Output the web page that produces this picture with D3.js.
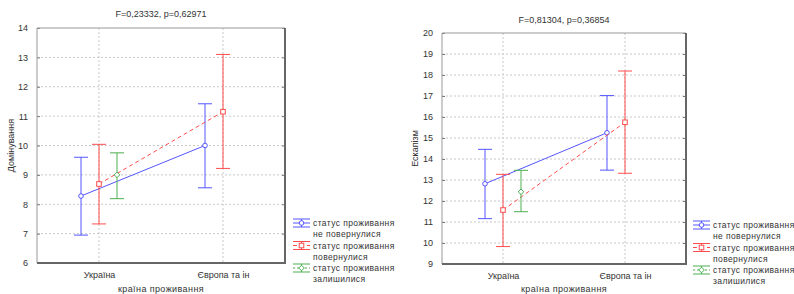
<!DOCTYPE html>
<html><head><meta charset="utf-8">
<script src="https://cdn.jsdelivr.net/npm/d3@7"></script>
<style>body{margin:0;background:#fff}svg{display:block}text{font-family:"Liberation Sans",Arial,sans-serif;fill:#333}</style>
</head><body><svg id="c" width="794" height="294"></svg>
<script>
const categories = ["Україна", "Європа та ін"];
const seriesLabels = [["статус проживання","не повернулися"],["статус проживання","повернулися"],["статус проживання","залишилися"]];
const xTitle = "країна проживання";

// Chart 1: Домінування
const domTitle = "F=0,23332, p=0,62971";
const domYLabel = "Домінування";
const domTicks = [6,7,8,9,10,11,12,13,14];
const domMean = [[8.28, 10.0],[8.69, 11.15],[9.0, null]];
const domLow  = [[6.95, 8.56],[7.33, 9.22],[8.19, null]];
const domHigh = [[9.6, 11.42],[10.04, 13.1],[9.75, null]];

// Chart 2: Ескапізм
const escTitle = "F=0,81304, p=0,36854";
const escYLabel = "Ескапізм";
const escTicks = [9,10,11,12,13,14,15,16,17,18,19,20];
const escMean = [[12.82, 15.25],[11.57, 15.75],[12.44, null]];
const escLow  = [[11.16, 13.47],[9.83, 13.32],[11.49, null]];
const escHigh = [[14.46, 17.02],[13.27, 18.19],[13.46, null]];

const colors = ["#5555ff","#ff4d4d","#4caf50"];
const dashes = [null,"4,3","2,2"];
const offsets = [-18, 0, 18];

const svg = d3.select("#c");

function marker(g, i, x, y, col){
  if(i===0) g.append("circle").attr("cx",x).attr("cy",y).attr("r",2.3).attr("fill","#fff").attr("stroke",col).attr("stroke-width",1);
  else if(i===1) g.append("rect").attr("x",x-2.3).attr("y",y-2.3).attr("width",4.6).attr("height",4.6).attr("fill","#fff").attr("stroke",col).attr("stroke-width",1);
  else g.append("path").attr("d",`M${x},${y-2.8}L${x+2.8},${y}L${x},${y+2.8}L${x-2.8},${y}Z`).attr("fill","#fff").attr("stroke",col).attr("stroke-width",1);
}

function chart(o){
  const g = svg.append("g");
  const x = d3.scalePoint().domain(categories).range([o.x0,o.x1]).padding(0.5);
  const y = d3.scaleLinear().domain([o.ticks[0], o.ticks[o.ticks.length-1]]).range([o.y1,o.y0]);
  // grid
  g.selectAll(".hg").data(o.ticks.slice(1,-1)).join("line")
    .attr("x1",o.x0).attr("x2",o.x1).attr("y1",d=>y(d)).attr("y2",d=>y(d))
    .attr("stroke","#c8c8c8").attr("stroke-dasharray","2,2").attr("stroke-width",1);
  g.selectAll(".vg").data(categories).join("line")
    .attr("x1",d=>x(d)).attr("x2",d=>x(d)).attr("y1",o.y0).attr("y2",o.y1)
    .attr("stroke","#c8c8c8").attr("stroke-dasharray","2,2").attr("stroke-width",1);
  // axes
  const ya = g.append("g").attr("transform",`translate(${o.x0},0)`)
    .call(d3.axisLeft(y).tickValues(o.ticks).tickSize(-3).tickPadding(9).tickFormat(d3.format("d")));
  ya.select(".domain").remove();
  ya.selectAll("line").attr("stroke","#777");
  ya.selectAll("text").attr("font-size","9px").attr("fill","#333");
  const yr = g.append("g").attr("transform",`translate(${o.x1},0)`)
    .call(d3.axisRight(y).tickValues(o.ticks).tickSize(-3).tickFormat(""));
  yr.select(".domain").remove(); yr.selectAll("line").attr("stroke","#777");
  const xa = g.append("g").attr("transform",`translate(0,${o.y1})`)
    .call(d3.axisBottom(x).tickSize(0).tickPadding(9));
  xa.select(".domain").remove();
  xa.selectAll("text").attr("font-size","9px").attr("fill","#333");
  // frame
  g.append("line").attr("x1",o.x0).attr("x2",o.x0).attr("y1",o.y0).attr("y2",o.y1).attr("stroke","#999");
  g.append("line").attr("x1",o.x0).attr("x2",o.x1).attr("y1",o.y0).attr("y2",o.y0).attr("stroke","#999");
  g.append("line").attr("x1",o.x1).attr("x2",o.x1).attr("y1",o.y0).attr("y2",o.y1+1).attr("stroke","#666").attr("stroke-width",2);
  g.append("line").attr("x1",o.x0).attr("x2",o.x1+1).attr("y1",o.y1).attr("y2",o.y1).attr("stroke","#666").attr("stroke-width",2);
  // series
  o.mean.forEach((m,i)=>{
    const col = colors[i];
    const pts = categories.map((c,j)=>({c,j,v:m[j]})).filter(d=>d.v!=null);
    if(pts.length>1){
      g.append("path").attr("d",d3.line().x(d=>x(d.c)+offsets[i]).y(d=>y(d.v))(pts))
        .attr("fill","none").attr("stroke",col).attr("stroke-width",1).attr("stroke-dasharray",dashes[i]);
    }
    pts.forEach(d=>{
      const cx = x(d.c)+offsets[i], lo=y(o.low[i][d.j]), hi=y(o.high[i][d.j]);
      g.append("line").attr("x1",cx).attr("x2",cx).attr("y1",hi).attr("y2",lo).attr("stroke",col);
      g.append("line").attr("x1",cx-7).attr("x2",cx+7).attr("y1",hi).attr("y2",hi).attr("stroke",col);
      g.append("line").attr("x1",cx-7).attr("x2",cx+7).attr("y1",lo).attr("y2",lo).attr("stroke",col);
    });
    pts.forEach(d=>marker(g,i,x(d.c)+offsets[i],y(d.v),col));
  });
  // titles
  g.append("text").attr("x",(o.x0+o.x1)/2).attr("y",o.titleY).attr("text-anchor","middle").attr("font-size","9px").text(o.title);
  g.append("text").attr("transform",`translate(${o.ylx},${(o.y0+o.y1)/2}) rotate(-90)`).attr("text-anchor","middle").attr("font-size","9px").text(o.ylabel);
  g.append("text").attr("x",(o.x0+o.x1)/2).attr("y",292).attr("text-anchor","middle").attr("font-size","9px").attr("letter-spacing","0.4px").text(xTitle);
  // legend
  seriesLabels.forEach((lab,i)=>{
    const col=colors[i], ly=o.legY+i*22.5, lx=o.legX;
    const lg=g.append("g");
    lg.append("line").attr("x1",lx).attr("x2",lx+17).attr("y1",ly-4).attr("y2",ly-4).attr("stroke",col);
    lg.append("line").attr("x1",lx).attr("x2",lx+17).attr("y1",ly+4).attr("y2",ly+4).attr("stroke",col);
    lg.append("line").attr("x1",lx).attr("x2",lx+17).attr("y1",ly).attr("y2",ly).attr("stroke",col).attr("stroke-dasharray",dashes[i]);
    lg.append("line").attr("x1",lx+8.5).attr("x2",lx+8.5).attr("y1",ly-4).attr("y2",ly+4).attr("stroke",col);
    marker(lg,i,lx+8.5,ly,col);
    lg.append("text").attr("x",lx+20).attr("y",ly+3).attr("font-size","8.5px").attr("letter-spacing","0.4px").text(lab[0]);
    lg.append("text").attr("x",lx+20).attr("y",ly+14).attr("font-size","8.5px").attr("letter-spacing","0.4px").text(lab[1]);
  });
}

chart({x0:37,x1:285,y0:28,y1:263,ticks:domTicks,mean:domMean,low:domLow,high:domHigh,title:domTitle,titleY:17,ylabel:domYLabel,ylx:14,legX:293,legY:223});
chart({x0:442,x1:686,y0:33,y1:264,ticks:escTicks,mean:escMean,low:escLow,high:escHigh,title:escTitle,titleY:23,ylabel:escYLabel,ylx:418,legX:693,legY:225});
</script></body></html>
